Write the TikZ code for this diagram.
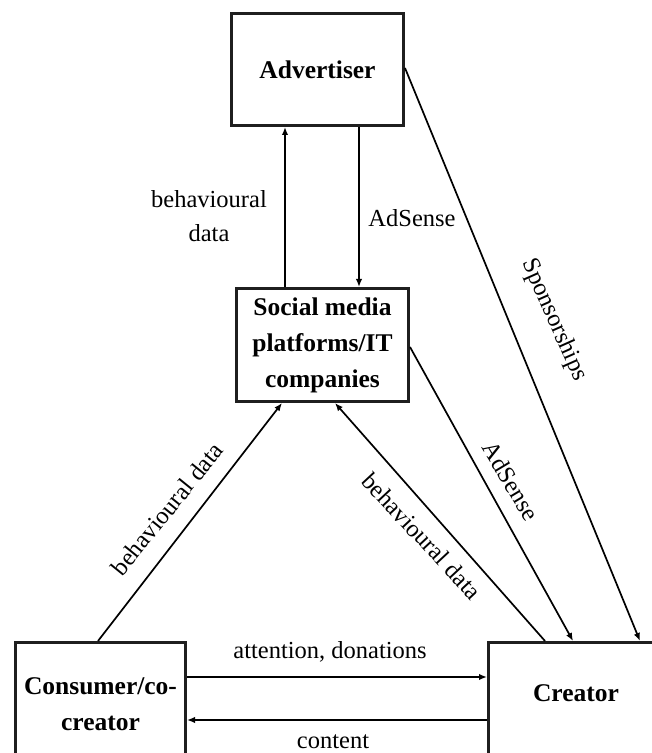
\documentclass[tikz,border=0pt]{standalone}
\usepackage{fontspec}
\setmainfont{Liberation Serif}
\usetikzlibrary{arrows.meta,calc}
\begin{document}
\begin{tikzpicture}[x=1pt,y=1pt,
  box/.style={draw=black!88, line width=3pt, fill=white, inner sep=0pt, align=center,
    font=\fontsize{25.5}{36}\selectfont\bfseries},
  conn/.style={line width=1.7pt, -{Latex[length=8pt,width=6.5pt]}},
  lbl/.style={font=\fontsize{24.5}{34}\selectfont, inner sep=0pt, align=center}]
\clip (0,0) rectangle (652,753);
\node[box, minimum width=172pt, minimum height=112pt] (adv) at (317.5,683.5) {Advertiser};
\node[box, minimum width=172pt, minimum height=113pt] (soc) at (322.5,408) {Social media\\platforms/IT\\companies};
\node[box, minimum width=170pt, minimum height=123pt] (co) at (100.5,49) {Consumer/co-\\creator};
\node[box, minimum width=175pt, minimum height=123pt,
  label={[name=crt, font=\fontsize{25.5}{36}\selectfont\bfseries, yshift=11pt]center:Creator}] (cr) at (576,49) {};
% connectors
\draw[conn] ([xshift=-37.5pt]soc.north) -- ([xshift=-32.5pt]adv.south);
\draw[conn] ([xshift=41.5pt]adv.south) -- ([xshift=36.5pt]soc.north);
\draw[conn] ([yshift=1.5pt]adv.east) -- ([xshift=64pt]cr.north);
\draw[conn] ([yshift=-2pt]soc.east) -- ([xshift=-3pt]cr.north);
\draw[conn] ([xshift=-31pt]cr.north) -- ([xshift=12.5pt]soc.south);
\draw[conn] ([xshift=-2.5pt]co.north) -- ([xshift=-40.5pt]soc.south);
\draw[conn] ([yshift=27pt]co.east) -- ([yshift=27pt]cr.west);
\draw[conn] ([yshift=-16pt]cr.west) -- ([yshift=-16pt]co.east);
% labels
\node[lbl] (l1) at (209,537) {behavioural\\data};
\node[lbl] (l2) at (412,535) {AdSense};
\node[lbl, rotate=-66] (l3) at (554,433) {Sponsorships};
\node[lbl, rotate=-59] (l4) at (511,272) {AdSense};
\node[lbl, rotate=-47] (l5) at (422,217) {behavioural data};
\node[lbl, rotate=51] (l6) at (167,244) {behavioural data};
\node[lbl] (l7) at (330,101) {attention, donations};
\node[lbl] (l8) at (333,11) {content};
\end{tikzpicture}
\end{document}
